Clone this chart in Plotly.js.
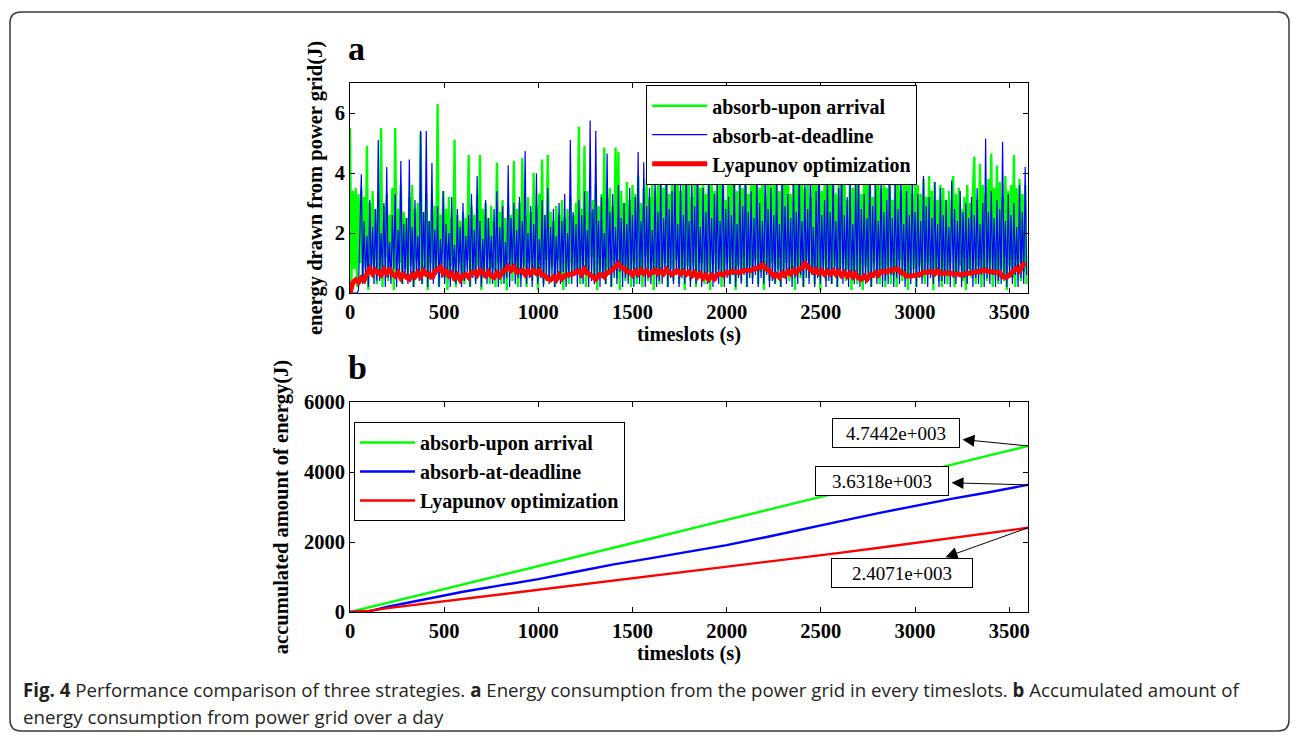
<!DOCTYPE html>
<html>
<head>
<meta charset="utf-8">
<script src="https://cdn.plot.ly/plotly-3.0.1.min.js"></script>
<style>
  html, body { margin: 0; padding: 0; background: #ffffff; }
  #chart { width: 1296px; height: 739px; }
</style>
</head>
<body>
<div id="chart"></div>
<script>
// ---------------- DATA ----------------
// Panel a: energy drawn from power grid per timeslot (read every 7.5 s)
const timeslotStepA = 7.5;
const uponArrivalA = [
  5.5, 0.3, 3.4, 0.8, 3.5, 0.2, 3.3, 1.0, 3.5, 0.4, 3.2, 0.9, 4.9, 0.1, 3.0, 0.6, 3.4, 1.1, 2.8, 0.3,
  3.1, 0.7, 5.5, 0.2, 2.9, 1.2, 3.3, 0.4, 2.6, 0.9, 3.5, 0.1, 5.5, 0.6, 2.8, 1.0, 3.6, 0.3, 2.7, 0.8,
  2.5, 0.4, 3.2, 0.9, 3.6, 0.2, 2.8, 1.1, 3.0, 0.5, 5.35, 0.3, 2.7, 0.8, 3.3, 0.1, 2.4, 1.0, 3.1, 0.6,
  2.9, 0.8, 6.3, 0.2, 2.6, 1.3, 3.4, 0.5, 2.8, 0.1, 3.2, 0.9, 2.5, 0.4, 5.1, 0.2, 2.6, 1.0, 2.4, 0.6,
  2.7, 0.3, 2.5, 1.1, 4.6, 0.2, 2.9, 0.7, 2.6, 0.4, 3.3, 0.9, 4.6, 0.1, 2.8, 0.6, 3.0, 1.2, 2.5, 0.3,
  2.9, 0.8, 2.4, 0.2, 4.35, 1.0, 2.7, 0.3, 3.1, 0.6, 2.5, 0.1, 2.9, 1.1, 2.6, 0.4, 4.4, 0.7, 2.8, 0.2,
  3.0, 0.5, 4.5, 0.9, 2.6, 0.2, 3.2, 1.0, 2.7, 0.4, 4.0, 0.7, 2.9, 0.1, 3.3, 0.8, 4.45, 0.3, 2.6, 1.1,
  4.6, 0.4, 2.7, 0.9, 2.4, 0.2, 2.9, 1.1, 2.6, 0.5, 3.1, 0.1, 2.5, 0.8, 2.8, 0.3, 3.2, 1.0, 2.6, 0.6,
  3.0, 0.7, 5.55, 0.3, 2.8, 1.0, 4.9, 0.2, 3.4, 0.6, 2.7, 1.2, 3.1, 0.4, 3.6, 0.1, 2.9, 0.9, 3.3, 0.5,
  4.85, 0.3, 3.2, 0.8, 3.5, 0.2, 2.9, 1.1, 4.85, 0.5, 4.7, 0.1, 3.4, 0.9, 3.0, 0.4, 3.7, 0.7, 3.1, 0.2,
  3.6, 1.0, 3.3, 0.3, 3.9, 0.6, 3.0, 0.2, 3.5, 1.2, 3.8, 0.4, 3.2, 0.8, 3.9, 0.1, 3.4, 0.7, 3.7, 0.3,
  4.2, 0.6, 3.5, 1.0, 4.4, 0.2, 3.3, 0.8, 4.1, 0.4, 3.7, 1.1, 4.6, 0.3, 3.4, 0.7, 4.0, 0.1, 3.6, 0.9,
  4.3, 0.4, 3.2, 0.9, 3.9, 0.2, 4.5, 0.6, 3.5, 1.0, 4.1, 0.3, 3.3, 0.7, 4.4, 0.1, 3.8, 1.2, 3.4, 0.5,
  4.0, 0.8, 3.6, 0.2, 4.3, 0.5, 3.1, 1.0, 4.2, 0.3, 3.7, 0.6, 4.5, 0.1, 3.4, 0.9, 4.1, 0.4, 3.5, 0.7,
  4.6, 0.2, 3.3, 0.9, 4.2, 0.5, 3.8, 1.1, 4.0, 0.3, 3.5, 0.7, 4.4, 0.1, 3.2, 0.8, 4.1, 0.4, 3.7, 1.0,
  3.6, 0.3, 4.3, 0.8, 3.4, 0.2, 4.1, 0.6, 3.9, 1.0, 4.5, 0.4, 3.3, 0.7, 4.0, 0.1, 3.6, 0.9, 4.2, 0.5,
  4.0, 0.2, 3.5, 1.1, 4.4, 0.5, 3.2, 0.8, 4.1, 0.3, 3.8, 0.6, 4.3, 0.1, 3.4, 0.9, 3.9, 0.4, 4.2, 0.7,
  3.7, 0.3, 4.5, 0.9, 3.3, 0.2, 4.0, 0.6, 3.6, 1.0, 4.3, 0.4, 3.1, 0.8, 4.1, 0.1, 3.5, 0.7, 4.4, 0.3,
  3.8, 0.6, 3.3, 0.1, 4.1, 0.9, 3.6, 0.4, 4.3, 0.2, 3.2, 1.0, 3.9, 0.5, 4.2, 0.3, 3.5, 0.8, 4.0, 0.2,
  3.5, 0.9, 4.4, 0.3, 3.1, 0.6, 3.9, 0.2, 4.2, 1.1, 3.4, 0.4, 4.0, 0.7, 3.7, 0.1, 4.3, 0.5, 3.3, 0.8,
  4.0, 0.2, 3.6, 0.9, 3.3, 0.5, 3.8, 0.3, 3.2, 1.0, 3.9, 0.6, 3.4, 0.1, 3.7, 0.8, 3.1, 0.4, 3.6, 0.2,
  3.5, 0.7, 3.1, 0.3, 3.4, 1.0, 2.9, 3.9, 0.2, 3.3, 0.6, 3.5, 0.9, 2.8, 0.4, 3.2, 0.1, 3.6, 0.8, 3.0,
  0.5, 3.4, 4.55, 0.3, 3.1, 0.9, 4.3, 0.2, 3.6, 0.7, 3.3, 0.4, 3.8, 1.0, 4.65, 0.2, 3.5, 0.6, 4.25, 0.3,
  3.7, 0.8, 3.2, 0.4, 3.9, 0.1, 3.4, 0.9, 3.6, 0.5, 4.6, 0.2, 3.5, 1.0, 3.8, 0.4, 3.3, 0.7, 3.6, 0.3
];
const atDeadlineA = [
  0, 0, 0, 0, 0, 0, 0.1, 1.8, 3.96, 0.3, 2.4, 0.5, 1.9, 0.2, 3.1, 0.6, 2.2, 0.3, 2.8, 0.4,
  5.1, 0.4, 2.0, 0.7, 3.0, 0.2, 4.2, 0.5, 1.7, 0.3, 2.6, 0.8, 3.3, 0.2, 2.1, 0.6, 4.4, 0.3, 2.3, 0.5,
  2.5, 0.3, 4.45, 0.6, 2.2, 0.2, 3.1, 0.5, 1.9, 0.4, 5.4, 0.3, 2.7, 0.6, 5.4, 0.2, 2.4, 0.5, 4.33, 0.3,
  2.1, 0.6, 2.9, 0.2, 1.8, 0.5, 3.4, 0.3, 2.3, 0.7, 2.0, 0.2, 3.2, 0.5, 1.6, 0.3, 2.8, 0.6, 2.2, 0.2,
  3.0, 0.4, 1.9, 0.7, 2.6, 0.2, 3.3, 0.5, 2.1, 0.3, 3.9, 0.6, 2.4, 0.2, 1.8, 0.5, 3.1, 0.3, 2.5, 0.6,
  1.9, 0.3, 2.8, 0.5, 3.4, 0.2, 2.2, 0.6, 2.9, 0.3, 1.7, 0.5, 4.26, 0.2, 2.5, 0.7, 3.0, 0.3, 2.1, 0.5,
  3.2, 0.2, 2.4, 0.6, 4.73, 0.3, 2.0, 0.5, 2.9, 0.2, 2.3, 0.6, 3.98, 0.3, 1.8, 0.5, 3.1, 0.2, 2.6, 0.4,
  3.5, 0.3, 2.2, 0.6, 2.8, 0.2, 1.9, 0.5, 3.0, 0.3, 2.4, 0.7, 3.3, 0.2, 2.0, 0.5, 5.1, 0.3, 2.7, 0.6,
  2.3, 0.2, 3.1, 0.5, 2.6, 0.3, 3.4, 0.6, 2.1, 0.2, 5.75, 0.4, 2.8, 0.3, 5.4, 0.6, 2.4, 0.2, 3.2, 0.5,
  2.0, 0.3, 4.65, 0.6, 2.7, 0.2, 3.3, 0.5, 2.2, 0.3, 3.6, 0.7, 2.5, 0.2, 3.0, 0.5, 2.3, 0.3, 3.5, 0.6,
  2.6, 0.2, 3.2, 0.5, 4.7, 0.3, 2.4, 0.6, 4.36, 0.2, 2.9, 0.5, 3.5, 0.3, 2.1, 0.6, 3.8, 0.2, 2.7, 0.4,
  3.9, 0.3, 2.5, 0.6, 4.3, 0.2, 2.8, 0.5, 3.4, 0.3, 4.1, 0.6, 2.3, 0.2, 3.7, 0.5, 2.6, 0.3, 4.4, 0.6,
  2.4, 0.2, 3.8, 0.5, 2.9, 0.3, 4.2, 0.6, 2.2, 0.2, 3.5, 0.5, 2.7, 0.3, 4.0, 0.6, 2.5, 0.2, 3.3, 0.4,
  3.6, 0.3, 2.4, 0.6, 4.5, 0.2, 2.8, 0.5, 3.2, 0.3, 2.6, 0.6, 4.1, 0.2, 2.3, 0.5, 3.7, 0.3, 2.9, 0.6,
  4.2, 0.2, 2.7, 0.5, 3.4, 0.3, 2.5, 0.6, 4.0, 0.2, 3.0, 0.5, 2.4, 0.3, 4.4, 0.6, 2.8, 0.2, 3.5, 0.4,
  2.6, 0.3, 3.9, 0.6, 2.3, 0.2, 4.2, 0.5, 2.9, 0.3, 3.3, 0.6, 2.5, 0.2, 3.8, 0.5, 2.7, 0.3, 4.1, 0.6,
  2.4, 0.2, 3.6, 0.5, 2.8, 0.3, 4.3, 0.6, 2.2, 0.2, 3.4, 0.5, 4.6, 0.3, 2.6, 0.6, 3.1, 0.2, 3.9, 0.4,
  2.7, 0.3, 4.0, 0.6, 2.4, 0.2, 3.5, 0.5, 4.3, 0.3, 2.6, 0.6, 3.2, 0.2, 3.8, 0.5, 2.3, 0.3, 3.6, 0.6,
  4.0, 0.2, 2.8, 0.5, 3.3, 0.3, 2.5, 0.6, 4.5, 0.2, 2.9, 0.5, 3.6, 0.3, 2.4, 0.6, 3.9, 0.2, 2.7, 0.4,
  3.1, 0.3, 4.2, 0.6, 2.5, 0.2, 3.7, 0.5, 2.8, 0.3, 4.1, 0.6, 2.3, 0.2, 3.4, 0.5, 2.6, 0.3, 3.9, 0.6,
  2.7, 0.2, 3.3, 0.5, 2.4, 0.3, 3.9, 0.6, 2.9, 0.2, 3.2, 0.5, 2.5, 0.3, 3.7, 0.6, 2.3, 0.2, 3.5, 0.4,
  2.6, 0.3, 3.1, 0.6, 2.2, 0.2, 3.75, 0.5, 2.8, 0.3, 2.4, 0.6, 3.4, 0.2, 2.7, 0.5, 3.0, 0.3, 2.5, 0.6,
  3.2, 0.2, 2.6, 0.5, 3.5, 0.3, 2.3, 0.6, 3.0, 0.2, 5.15, 0.5, 2.7, 0.3, 3.4, 0.6, 2.5, 0.2, 3.1, 0.4,
  2.8, 0.3, 5.04, 0.6, 2.4, 0.2, 3.3, 0.5, 2.6, 0.3, 3.0, 0.6, 2.2, 0.2, 3.6, 0.5, 2.7, 0.3, 4.2, 0.6
];
// Lyapunov optimization (read every 15 s)
const timeslotStepRed = 15;
const lyapunovA = [
  0.0, 0.35, 0.44, 0.36, 0.5, 0.42, 0.64, 0.8, 0.64, 0.76,
  0.68, 0.6, 0.78, 0.66, 0.82, 0.62, 0.56, 0.68, 0.5, 0.62,
  0.52, 0.46, 0.62, 0.54, 0.68, 0.56, 0.74, 0.62, 0.64, 0.48,
  0.72, 0.76, 0.86, 0.66, 0.74, 0.58, 0.66, 0.5, 0.6, 0.44,
  0.58, 0.62, 0.52, 0.68, 0.7, 0.6, 0.76, 0.64, 0.58, 0.7,
  0.56, 0.52, 0.66, 0.56, 0.72, 0.76, 0.88, 0.76, 0.86, 0.7,
  0.72, 0.76, 0.62, 0.74, 0.64, 0.76, 0.66, 0.74, 0.6, 0.58,
  0.48, 0.44, 0.54, 0.44, 0.6, 0.48, 0.58, 0.6, 0.6, 0.64,
  0.7, 0.74, 0.62, 0.8, 0.68, 0.6, 0.5, 0.46, 0.6, 0.6,
  0.54, 0.68, 0.7, 0.8, 0.84, 0.98, 0.86, 0.82, 0.72, 0.72,
  0.6, 0.72, 0.64, 0.76, 0.66, 0.74, 0.62, 0.72, 0.76, 0.66,
  0.74, 0.64, 0.78, 0.68, 0.62, 0.7, 0.74, 0.64, 0.72, 0.62,
  0.7, 0.58, 0.68, 0.54, 0.64, 0.5, 0.6, 0.46, 0.58, 0.48,
  0.62, 0.64, 0.6, 0.68, 0.66, 0.72, 0.7, 0.7, 0.68, 0.74,
  0.74, 0.78, 0.76, 0.8, 0.8, 0.84, 0.94, 0.82, 0.78, 0.64,
  0.56, 0.62, 0.52, 0.66, 0.58, 0.72, 0.64, 0.76, 0.68, 0.8,
  0.82, 0.98, 0.88, 0.82, 0.7, 0.78, 0.66, 0.74, 0.62, 0.72,
  0.64, 0.74, 0.62, 0.72, 0.58, 0.68, 0.56, 0.66, 0.54, 0.64,
  0.5, 0.46, 0.56, 0.46, 0.6, 0.58, 0.68, 0.6, 0.72, 0.72,
  0.7, 0.76, 0.74, 0.8, 0.78, 0.68, 0.66, 0.56, 0.56, 0.58,
  0.58, 0.62, 0.62, 0.68, 0.68, 0.72, 0.72, 0.64, 0.74, 0.66,
  0.66, 0.68, 0.64, 0.66, 0.62, 0.64, 0.6, 0.62, 0.62, 0.66,
  0.64, 0.68, 0.68, 0.74, 0.74, 0.76, 0.72, 0.72, 0.7, 0.7,
  0.68, 0.54, 0.52, 0.56, 0.66, 0.7, 0.82, 0.74, 0.92, 1.0
];

// Panel b: accumulated energy
const timeslotsB   = [0, 100, 200, 400, 600, 800, 1000, 1200, 1400, 1600, 1800, 2000, 2200, 2400, 2600, 2800, 3000, 3200, 3400, 3600];
const uponArrivalB = [0, 130, 270, 540, 800, 1060, 1310, 1570, 1830, 2100, 2370, 2640, 2900, 3160, 3420, 3690, 3960, 4220, 4480, 4744.2];
const atDeadlineB  = [0, 20, 150, 370, 580, 760, 940, 1150, 1360, 1540, 1720, 1910, 2130, 2370, 2590, 2820, 3040, 3240, 3430, 3631.8];
const lyapunovB    = [0, 30, 110, 240, 380, 520, 650, 780, 910, 1030, 1160, 1290, 1420, 1560, 1690, 1830, 1970, 2110, 2260, 2407.1];

const seriesNames = ['absorb-upon arrival', 'absorb-at-deadline', 'Lyapunov optimization'];
const finalLabels = ['4.7442e+003', '3.6318e+003', '2.4071e+003'];
const xTicksA = [0, 500, 1000, 1500, 2000, 2500, 3000, 3500];
const yTicksA = [0, 2, 4, 6];
const yTicksB = [0, 2000, 4000, 6000];

// ---------------- LAYOUT HELPERS ----------------
const W = 1296, H = 739;
const fx = px => px / W;
const fy = py => 1 - py / H;
const SERIF = '"Liberation Serif", "Times New Roman", serif';
const GREEN = '#00ff00', BLUE = '#0000ff', RED = '#ff0000';

const traces = [
  { x0: 0, dx: timeslotStepA, y: uponArrivalA, name: seriesNames[0], type: 'scatter', mode: 'lines',
    line: { color: GREEN, width: 2.4 }, xaxis: 'x', yaxis: 'y', legend: 'legend' },
  { x0: 0, dx: timeslotStepA, y: atDeadlineA, name: seriesNames[1], type: 'scatter', mode: 'lines',
    line: { color: BLUE, width: 1.2 }, xaxis: 'x', yaxis: 'y', legend: 'legend' },
  { x0: 0, dx: timeslotStepRed, y: lyapunovA, name: seriesNames[2], type: 'scatter', mode: 'lines',
    line: { color: RED, width: 5 }, xaxis: 'x', yaxis: 'y', legend: 'legend' },
  { x: timeslotsB, y: uponArrivalB, name: seriesNames[0], type: 'scatter', mode: 'lines',
    line: { color: GREEN, width: 2.4 }, xaxis: 'x2', yaxis: 'y2', legend: 'legend2' },
  { x: timeslotsB, y: atDeadlineB, name: seriesNames[1], type: 'scatter', mode: 'lines',
    line: { color: BLUE, width: 2.4 }, xaxis: 'x2', yaxis: 'y2', legend: 'legend2' },
  { x: timeslotsB, y: lyapunovB, name: seriesNames[2], type: 'scatter', mode: 'lines',
    line: { color: RED, width: 2.4 }, xaxis: 'x2', yaxis: 'y2', legend: 'legend2' }
];

const tickFont = { family: SERIF, size: 20.5, color: '#000', weight: 'bold' };
const titleFont = { family: SERIF, size: 20.5, color: '#000', weight: 'bold' };
const axisCommon = {
  showline: true, linecolor: '#000', linewidth: 1, mirror: 'ticks',
  ticks: 'inside', ticklen: 5, tickcolor: '#000', tickwidth: 1,
  showgrid: false, zeroline: false, tickfont: tickFont
};

const endOf = arr => arr[arr.length - 1];
const lastT = endOf(timeslotsB);
function valueLabel(text, yVal, ax, ay, w) {
  return {
    xref: 'x2', yref: 'y2', x: lastT, y: yVal, ax: ax, ay: ay,
    text: text, showarrow: true, arrowside: 'start', startarrowhead: 2, startarrowsize: 2.4,
    arrowwidth: 1, arrowcolor: '#000', startstandoff: 3, standoff: 0,
    font: { family: SERIF, size: 19, color: '#000' },
    bordercolor: '#000', borderwidth: 1, borderpad: 3, bgcolor: '#fff', width: w, height: 22
  };
}

const captionFont = { family: '"Open Sans", "Noto Sans", sans-serif', size: 18.7, color: '#231f20' };

const r = 11, L = 10, T = 12, R = 1289, B = 731;
const borderPath = [
  `M${fx(L + r)},${fy(T)}`, `L${fx(R - r)},${fy(T)}`, `Q${fx(R)},${fy(T)} ${fx(R)},${fy(T + r)}`,
  `L${fx(R)},${fy(B - r)}`, `Q${fx(R)},${fy(B)} ${fx(R - r)},${fy(B)}`,
  `L${fx(L + r)},${fy(B)}`, `Q${fx(L)},${fy(B)} ${fx(L)},${fy(B - r)}`,
  `L${fx(L)},${fy(T + r)}`, `Q${fx(L)},${fy(T)} ${fx(L + r)},${fy(T)}`, 'Z'
].join(' ');

const layout = {
  width: W, height: H,
  margin: { l: 0, r: 0, t: 0, b: 0 },
  paper_bgcolor: '#fff', plot_bgcolor: '#fff',
  showlegend: true,
  xaxis: Object.assign({}, axisCommon, {
    domain: [fx(350), fx(1028)], anchor: 'y', range: [0, 3600],
    tickvals: xTicksA,
    title: { text: 'timeslots (s)', font: titleFont, standoff: 4 }
  }),
  yaxis: Object.assign({}, axisCommon, {
    domain: [fy(293), fy(83)], anchor: 'x', range: [0, 7],
    tickvals: yTicksA,
    title: { text: 'energy drawn from power grid(J)', font: titleFont, standoff: 6 }
  }),
  xaxis2: Object.assign({}, axisCommon, {
    domain: [fx(350), fx(1028)], anchor: 'y2', range: [0, 3600],
    tickvals: xTicksA,
    title: { text: 'timeslots (s)', font: titleFont, standoff: 4 }
  }),
  yaxis2: Object.assign({}, axisCommon, {
    domain: [fy(612), fy(402)], anchor: 'x2', range: [0, 6000],
    tickvals: yTicksB,
    title: { text: 'accumulated amount of energy(J)', font: titleFont, standoff: 9 }
  }),
  legend: {
    x: fx(646), y: fy(85), xanchor: 'left', yanchor: 'top',
    bgcolor: '#fff', bordercolor: '#000', borderwidth: 1.2,
    font: { family: SERIF, size: 20, color: '#000', weight: 'bold' },
    itemwidth: 55, tracegroupgap: 0
  },
  legend2: {
    x: fx(354), y: fy(422), xanchor: 'left', yanchor: 'top',
    bgcolor: '#fff', bordercolor: '#000', borderwidth: 1,
    font: { family: SERIF, size: 20, color: '#000', weight: 'bold' },
    itemwidth: 55, tracegroupgap: 0
  },
  shapes: [
    { type: 'path', xref: 'paper', yref: 'paper', path: borderPath,
      line: { color: '#3a3a3a', width: 1.5 }, fillcolor: 'rgba(0,0,0,0)', layer: 'below' }
  ],
  annotations: [
    { xref: 'paper', yref: 'paper', x: fx(346), y: fy(48), xanchor: 'left', yanchor: 'middle',
      text: 'a', showarrow: false, font: { family: SERIF, size: 34, color: '#000', weight: 'bold' } },
    { xref: 'paper', yref: 'paper', x: fx(346), y: fy(367), xanchor: 'left', yanchor: 'middle',
      text: 'b', showarrow: false, font: { family: SERIF, size: 34, color: '#000', weight: 'bold' } },
    valueLabel(finalLabels[0], endOf(uponArrivalB), -132, -13, 120),
    valueLabel(finalLabels[1], endOf(atDeadlineB), -146, -4, 126),
    valueLabel(finalLabels[2], endOf(lyapunovB), -126, 45, 134),
    { xref: 'paper', yref: 'paper', x: fx(21), y: fy(689), xanchor: 'left', yanchor: 'middle',
      showarrow: false, font: captionFont, align: 'left',
      text: '<b>Fig. 4</b> Performance comparison of three strategies. <b>a</b> Energy consumption from the power grid in every timeslots. <b>b</b> Accumulated amount of' },
    { xref: 'paper', yref: 'paper', x: fx(21), y: fy(716), xanchor: 'left', yanchor: 'middle',
      showarrow: false, font: captionFont, align: 'left',
      text: 'energy consumption from power grid over a day' }
  ]
};

Plotly.newPlot('chart', traces, layout, { staticPlot: true, displayModeBar: false });
</script>
</body>
</html>
